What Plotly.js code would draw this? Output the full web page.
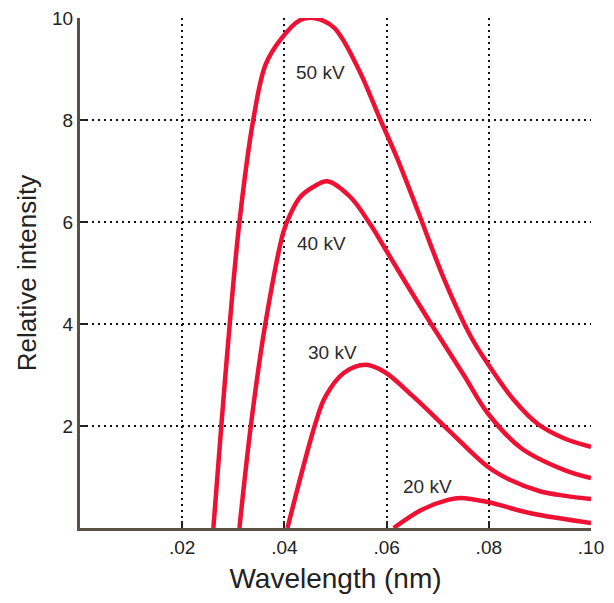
<!DOCTYPE html>
<html>
<head>
<meta charset="utf-8">
<script src="https://cdn.plot.ly/plotly-3.0.1.min.js"></script>
<style>html,body{margin:0;padding:0;background:#fff;}#chart{width:614px;height:603px;}</style>
</head>
<body>
<div id="chart"></div>
<script>
// Wavelength (nm) and relative intensity for each tube voltage
const wl50 = [0.0261, 0.0277, 0.0292, 0.0312, 0.0339, 0.0363, 0.0392, 0.0431, 0.0457, 0.0496, 0.0543, 0.0588, 0.0622, 0.0661, 0.0715, 0.0765, 0.0798, 0.0849, 0.0896, 0.0947, 0.1000];
const int50 = [0, 2.06, 3.88, 6.0, 8.0, 9.08, 9.57, 9.96, 10.0, 9.82, 9.04, 8.0, 7.22, 6.22, 4.82, 3.75, 3.22, 2.51, 2.04, 1.76, 1.59];

const wl40 = [0.0312, 0.0335, 0.0363, 0.0398, 0.0412, 0.0431, 0.0457, 0.0484, 0.0529, 0.0569, 0.0594, 0.0627, 0.0686, 0.0751, 0.0798, 0.0863, 0.0947, 0.1000];
const int40 = [0, 2.06, 4.02, 5.80, 6.16, 6.49, 6.69, 6.8, 6.49, 5.94, 5.53, 4.98, 4.02, 3.0, 2.25, 1.57, 1.14, 0.98];

const wl30 = [0.0406, 0.0461, 0.0480, 0.0516, 0.0559, 0.0596, 0.0653, 0.0725, 0.0798, 0.0840, 0.0900, 0.0950, 0.1000];
const int30 = [0, 2.06, 2.57, 3.04, 3.2, 3.06, 2.57, 1.88, 1.2, 0.95, 0.72, 0.63, 0.57];

const wl20 = [0.0614, 0.0667, 0.0720, 0.0745, 0.0798, 0.0882, 0.1000];
const int20 = [0, 0.35, 0.55, 0.59, 0.51, 0.29, 0.10];

const labelText = ["50 kV", "40 kV", "30 kV", "20 kV"];
const labelX = [0.0471, 0.0473, 0.0494, 0.0680];
const labelY = [8.94, 5.57, 3.45, 0.82];

const xTickVals = [0.02, 0.04, 0.06, 0.08, 0.10];
const xTickText = [".02", ".04", ".06", ".08", ".10"];
const yTickVals = [2, 4, 6, 8, 10];
const yTickText = ["2", "4", "6", "8", "10"];

const red = '#ee1133';
const series = [[wl50, int50], [wl40, int40], [wl30, int30], [wl20, int20]];
const traces = series.map(s => ({
  x: s[0], y: s[1], type: 'scatter', mode: 'lines',
  line: {color: red, width: 4.5, shape: 'spline', smoothing: 1},
  hoverinfo: 'skip', cliponaxis: true
}));

const axisColor = '#5c5142';
const fam = '"Liberation Sans", Arial, Helvetica, sans-serif';

const layout = {
  width: 614, height: 603,
  margin: {l: 80, r: 23, t: 18, b: 75},
  paper_bgcolor: '#fff', plot_bgcolor: '#fff',
  showlegend: false,
  font: {family: fam, color: '#222'},
  xaxis: {
    range: [0, 0.1], tickvals: xTickVals, ticktext: xTickText,
    showline: true, linecolor: axisColor, linewidth: 3,
    ticks: 'inside', ticklen: 7, tickwidth: 2, tickcolor: '#222',
    showgrid: true, gridcolor: '#111', gridwidth: 2, griddash: '2px,4px',
    zeroline: false, mirror: false, automargin: false,
    tickfont: {size: 19, family: fam, color: '#222'},
    title: {text: 'Wavelength (nm)', font: {size: 28, family: fam, color: '#222'}, standoff: 12}
  },
  yaxis: {
    range: [0, 10], tickvals: yTickVals, ticktext: yTickText,
    showline: true, linecolor: axisColor, linewidth: 3,
    ticks: 'inside', ticklen: 7, tickwidth: 2, tickcolor: '#222',
    showgrid: true, gridcolor: '#111', gridwidth: 2, griddash: '2px,4px',
    zeroline: false, mirror: false, automargin: false,
    tickfont: {size: 19, family: fam, color: '#222'},
    title: {text: 'Relative intensity', font: {size: 26, family: fam, color: '#222'}, standoff: 8}
  },
  annotations: labelText.map((t, i) => ({
    x: labelX[i], y: labelY[i], xref: 'x', yref: 'y', text: t, showarrow: false,
    font: {size: 19, family: fam, color: '#2a2a2a'}
  }))
};

Plotly.newPlot('chart', traces, layout, {displayModeBar: false, staticPlot: true});
</script>
</body>
</html>
